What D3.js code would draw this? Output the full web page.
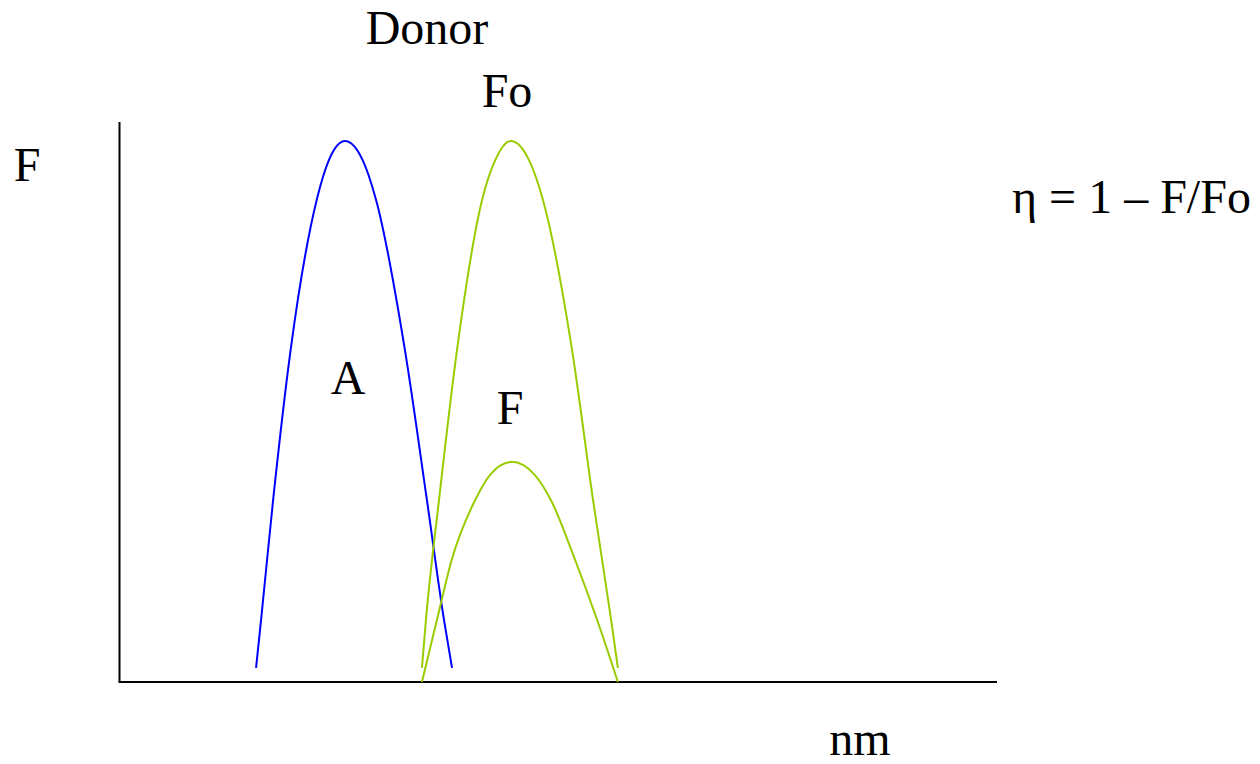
<!DOCTYPE html>
<html>
<head>
<meta charset="utf-8">
<script src="https://cdn.jsdelivr.net/npm/d3@7"></script>
<style>
  html, body { margin: 0; padding: 0; background: #fff; }
  svg { display: block; }
</style>
</head>
<body>
<svg id="chart" width="1260" height="764"></svg>
<script>
// wavelength (nm, arbitrary) and relative intensity
const donorNm  = [454.3, 456.3, 461.1, 468.1, 478.5, 483.4, 489.8, 496.8, 502.2, 513.7, 522.5, 529.3, 532.5];
const donorF   = [0.026, 0.115, 0.336, 0.614, 0.891, 0.965, 1.000, 0.965, 0.891, 0.614, 0.336, 0.115, 0.026];
const foNm     = [520.5, 522.1, 527.3, 534.5, 544.5, 549.8, 556.0, 563.2, 568.8, 580.4, 588.8, 596.0, 598.7];
const foF      = [0.026, 0.115, 0.336, 0.614, 0.891, 0.965, 1.000, 0.965, 0.891, 0.614, 0.336, 0.115, 0.026];
const fNm      = [520.5, 526.5, 532.4, 541.7, 547.7, 556.3, 565.5, 572.0, 581.6, 590.4, 598.7];
const fF       = [0.000, 0.115, 0.226, 0.336, 0.383, 0.407, 0.383, 0.336, 0.226, 0.115, 0.000];
const xDomain  = [400, 750];
const yDomain  = [0, 1];
const yAxisTop = 1.035;

const FONT = "Liberation Serif";

const svg = d3.select("#chart");
const x = d3.scaleLinear().domain(xDomain).range([120, 997]);
const y = d3.scaleLinear().domain(yDomain).range([682, 141]);

// axes (no ticks)
svg.append("line").attr("x1", x(xDomain[0]) - 0.5).attr("x2", x(xDomain[0]) - 0.5)
  .attr("y1", y(0)).attr("y2", y(yAxisTop))
  .attr("stroke", "#000").attr("stroke-width", 2);
svg.append("line").attr("x1", x(xDomain[0]) - 1.5).attr("x2", x(xDomain[1]))
  .attr("y1", y(0)).attr("y2", y(0))
  .attr("stroke", "#000").attr("stroke-width", 2);

const line = d3.line()
  .x(d => x(d[0])).y(d => y(d[1]))
  .curve(d3.curveMonotoneX);

const series = [
  { nm: donorNm, f: donorF, color: "#0000ff" },
  { nm: foNm, f: foF, color: "#99cc00" },
  { nm: fNm, f: fF, color: "#99cc00" }
];
series.forEach(s => {
  svg.append("path")
    .datum(s.nm.map((v, i) => [v, s.f[i]]))
    .attr("d", line)
    .attr("fill", "none")
    .attr("stroke", s.color)
    .attr("stroke-width", 2);
});

const labels = [
  { t: "Donor", x: 427, y: 44, a: "middle" },
  { t: "Fo", x: 507, y: 107, a: "middle" },
  { t: "F", x: 27, y: 181, a: "middle" },
  { t: "η = 1 – F/Fo", x: 1012, y: 213, a: "start" },
  { t: "A", x: 348, y: 394, a: "middle" },
  { t: "F", x: 510, y: 424, a: "middle" },
  { t: "nm", x: 860, y: 755, a: "middle" }
];
labels.forEach(l => {
  svg.append("text").attr("x", l.x).attr("y", l.y)
    .attr("text-anchor", l.a)
    .style("font-family", FONT)
    .attr("font-size", 48)
    .attr("fill", "#000")
    .text(l.t);
});
</script>
</body>
</html>
